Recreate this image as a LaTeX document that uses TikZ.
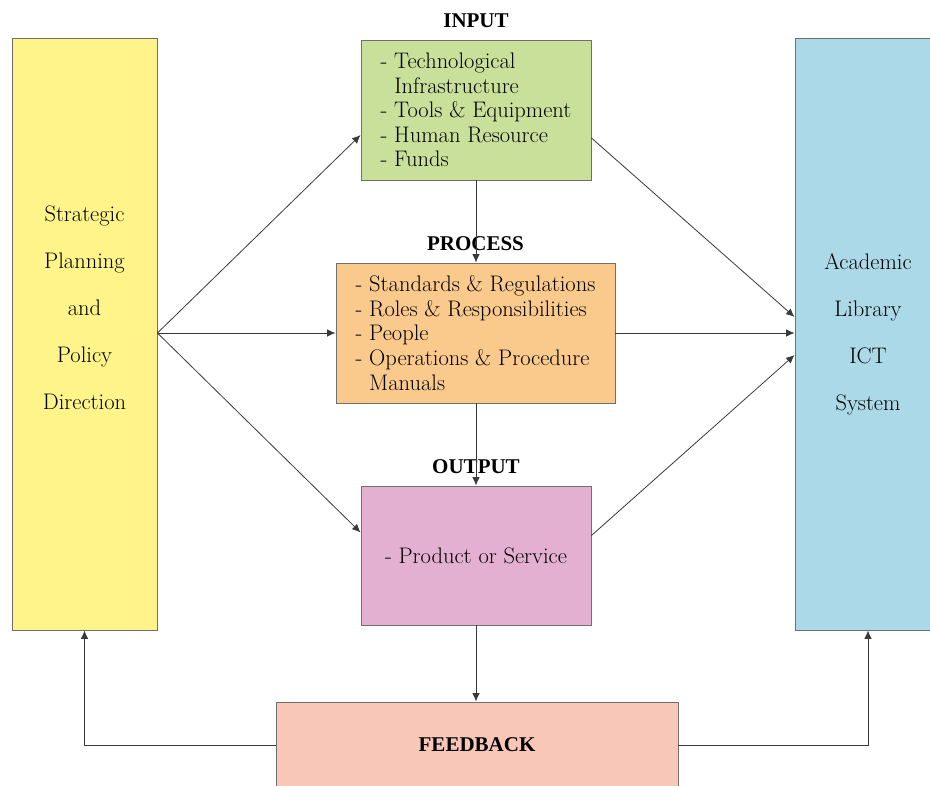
\documentclass[tikz,border=0pt]{standalone}
\usepackage{fontspec}
\newfontfamily\headfont{Liberation Serif}
\usetikzlibrary{positioning,arrows.meta,calc}
\definecolor{stratyellow}{HTML}{FFF48A}
\definecolor{inputgreen}{HTML}{C9E09A}
\definecolor{procorange}{HTML}{FAC98C}
\definecolor{outpink}{HTML}{E4B0D2}
\definecolor{ictblue}{HTML}{ABD9E8}
\definecolor{fbsalmon}{HTML}{F8C7B8}
\definecolor{edge}{HTML}{6F6F6F}
\definecolor{wire}{HTML}{3A3A3A}
\newcommand{\dashitem}{-\ }
\newcommand{\dashgap}{\hphantom{-\ }}
\tikzset{
  block/.style   = {rectangle, draw=edge, fill=#1, line width=0.9pt, inner sep=0pt,
                    align=left, font=\fontsize{22.5}{24.6}\selectfont},
  pillar/.style  = {rectangle, draw=edge, fill=#1, line width=0.9pt, inner sep=0pt,
                    minimum height=592pt, align=center, font=\fontsize{22.5}{47}\selectfont},
  stage/.style   = {font=\fontsize{21}{24}\selectfont\headfont\bfseries, inner sep=0pt},
  link/.style    = {-{Latex[length=8.5pt,width=7.5pt]}, line width=0.8pt, draw=wire},
}

\begin{document}
\begin{tikzpicture}[x=1pt, y=-1pt]
  \useasboundingbox (0,0) rectangle (930,786);
  \fill[white] (0,0) rectangle (930,786);

  %% ---- the two side pillars ----------------------------------------------------------
  \node[pillar=stratyellow, minimum width=145pt] (strat) at (84.5,334) {};
  \node[align=center, font=\fontsize{22.5}{47}\selectfont] (strattext) at ([yshift=26pt]strat.center)
    {Strategic\\Planning\\and\\Policy\\Direction};
  \node[pillar=ictblue, minimum width=146pt] (acad) at (868,334) {Academic\\Library\\ICT\\System};

  %% ---- input / process / output stack ------------------------------------------------
  \node[block=inputgreen, minimum width=230pt, minimum height=140pt] (input) at (476,110)
    {\dashitem Technological\\\dashgap Infrastructure\\\dashitem Tools \& Equipment\\
     \dashitem Human Resource\\\dashitem Funds};
  \node[block=procorange, minimum width=279pt, minimum height=140pt] (process) at (475.5,333)
    {\dashitem Standards \& Regulations\\\dashitem Roles \& Responsibilities\\\dashitem People\\
     \dashitem Operations \& Procedure\\\dashgap Manuals};
  \node[block=outpink, minimum width=230pt, minimum height=139pt] (output) at (476,555.5)
    {\dashitem Product or Service};

  \node[stage, above=12pt of input] (inputlbl) {INPUT};
  \node[stage, above=12pt of process] (processlbl) {PROCESS};
  \node[stage, above=12pt of output] (outputlbl) {OUTPUT};

  % feedback runs off the bottom edge
  \node[block=fbsalmon, minimum width=402pt, minimum height=86pt, align=center,
        font=\fontsize{21}{24}\selectfont\headfont\bfseries] (feedback) at (477,745) {FEEDBACK};

  %% ---- connectors --------------------------------------------------------------------
  \coordinate (fan) at (strat.east |- process.west);
  \draw[link] (fan) -- ([yshift=-25pt]input.west);
  \draw[link] (fan) -- (process.west);
  \draw[link] (fan) -- ([yshift=23pt]output.west);

  \draw[link] ([yshift=-28pt]input.east) -- ([yshift=16pt]acad.west |- process.east);
  \draw[link] (process.east) -- (acad.west |- process.east);
  \draw[link] ([yshift=20pt]output.east) -- ([yshift=-22pt]acad.west |- process.east);

  \draw[link] (input.south) -- (input.south |- process.north);
  \draw[link] (input.south |- process.south) -- (input.south |- output.north);
  \draw[link] (output.south) -- (output.south |- feedback.north);

  \draw[link] (feedback.west) -| (strat.south);
  \draw[link] (feedback.east) -| (acad.south);
\end{tikzpicture}
\end{document}
